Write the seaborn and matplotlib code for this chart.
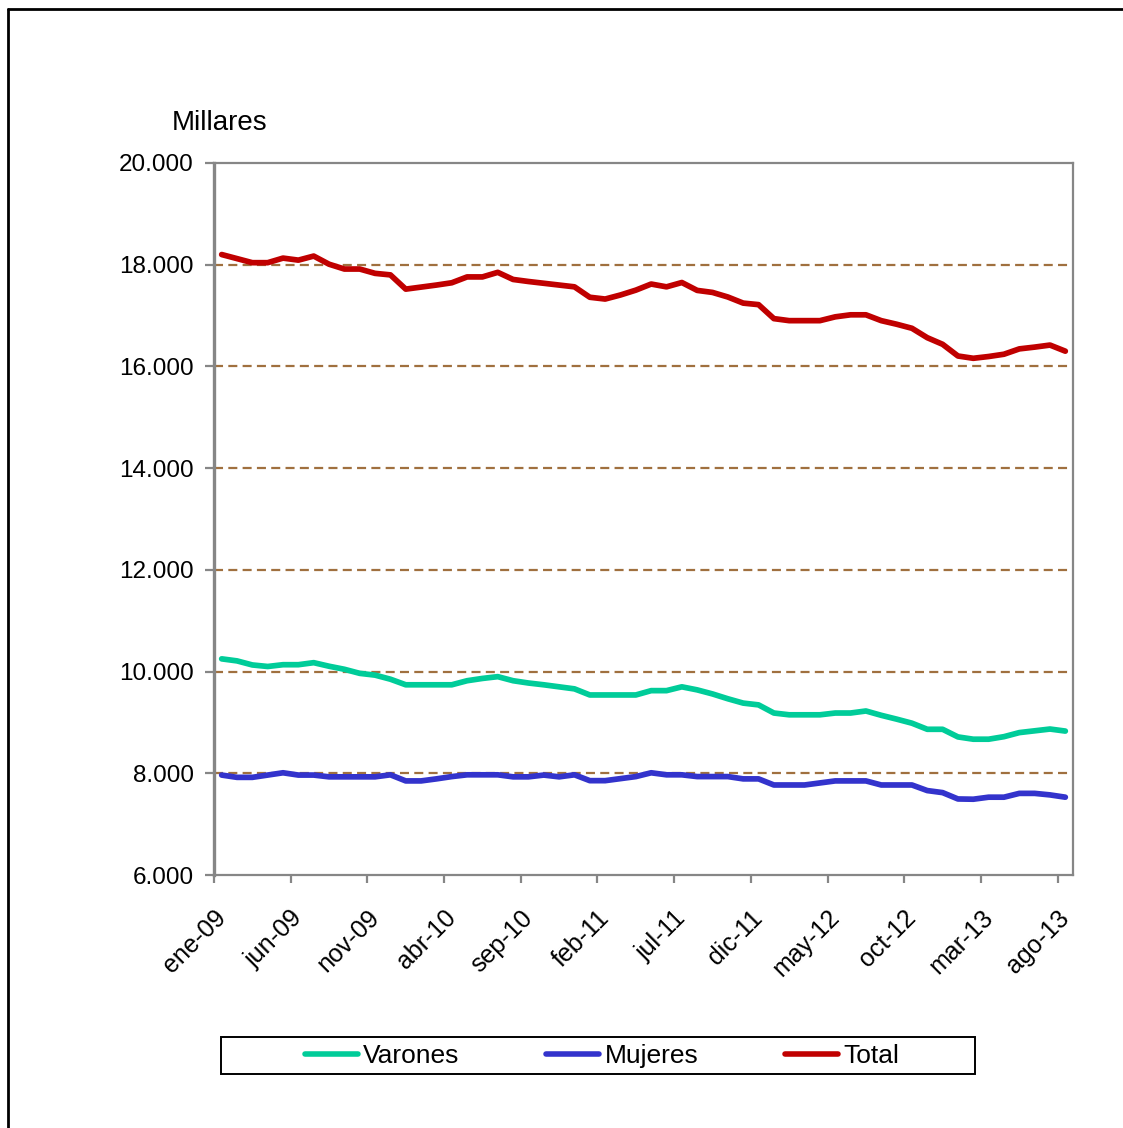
import matplotlib
matplotlib.use("Agg")
import matplotlib.pyplot as plt
import matplotlib.ticker as mticker
import matplotlib.transforms as mtransforms
from matplotlib.lines import Line2D
from matplotlib.patches import Rectangle
import seaborn as sns
import pandas as pd

# ---------------- data (thousands of persons, monthly ene-09 .. ago-13) -------------
meses = ["ene", "feb", "mar", "abr", "may", "jun", "jul", "ago", "sep", "oct", "nov", "dic"]
periodos = [f"{meses[m]}-{y:02d}" for y in range(9, 14) for m in range(12)][:56]

varones = [10250, 10210, 10130, 10100, 10135, 10135, 10175, 10105, 10045, 9965,
           9930, 9850, 9740, 9740, 9740, 9740, 9820, 9865, 9900, 9820,
           9775, 9740, 9700, 9660, 9540, 9540, 9540, 9540, 9625, 9625,
           9700, 9640, 9560, 9465, 9380, 9345, 9185, 9150, 9150, 9150,
           9185, 9185, 9225, 9140, 9065, 8985, 8865, 8865, 8715, 8670,
           8670, 8720, 8800, 8835, 8870, 8830]
mujeres = [7965, 7920, 7920, 7965, 8010, 7965, 7965, 7930, 7930, 7930,
           7930, 7970, 7850, 7850, 7890, 7935, 7970, 7970, 7970, 7930,
           7930, 7965, 7930, 7970, 7855, 7855, 7895, 7935, 8010, 7970,
           7970, 7935, 7935, 7935, 7890, 7890, 7770, 7770, 7770, 7810,
           7850, 7850, 7850, 7770, 7770, 7770, 7660, 7620, 7495, 7490,
           7530, 7530, 7605, 7605, 7575, 7530]
total = [18200, 18120, 18040, 18040, 18130, 18090, 18170, 18010, 17915, 17915,
         17830, 17800, 17520, 17560, 17600, 17645, 17760, 17760, 17850, 17710,
         17670, 17635, 17600, 17565, 17360, 17325, 17405, 17500, 17620, 17565,
         17650, 17495, 17455, 17365, 17245, 17215, 16940, 16900, 16900, 16900,
         16975, 17015, 17015, 16900, 16830, 16750, 16565, 16435, 16205, 16160,
         16195, 16240, 16345, 16380, 16420, 16300]

series = ["Varones", "Mujeres", "Total"]
colores = ["#00CC99", "#3333CC", "#C00000"]
yticks = [6000, 8000, 10000, 12000, 14000, 16000, 18000, 20000]

# ---------------- long-form table -------------
n = len(periodos)
df = pd.DataFrame({
    "idx": list(range(n)) * 3,
    "valor": varones + mujeres + total,
    "serie": [series[0]] * n + [series[1]] * n + [series[2]] * n,
})

sns.set_style("white")
plt.rcParams["font.family"] = ["Liberation Sans", "DejaVu Sans"]
plt.rcParams["lines.scale_dashes"] = False
plt.rcParams["text.color"] = "black"
plt.rcParams["xtick.labelcolor"] = "black"
plt.rcParams["ytick.labelcolor"] = "black"

W, H, DPI = 1123, 1128, 100
fig = plt.figure(figsize=(W / DPI, H / DPI), dpi=DPI)
ax = fig.add_axes([214 / W, 1 - 875 / H, (1073 - 214) / W, (875 - 163) / H])

palette = dict(zip(series, colores))
sns.lineplot(data=df, x="idx", y="valor", hue="serie", hue_order=series,
             palette=palette, linewidth=4.1, ax=ax, legend=False,
             solid_capstyle="round", solid_joinstyle="round")

# axes limits
ax.set_xlim(-0.5, n - 0.5)
ax.set_ylim(yticks[0], yticks[-1])

# gridlines (dashed brown), excluding the bottom and top ones
for v in yticks[1:-1]:
    ax.axhline(v, color="#A0703F", linewidth=1.6, linestyle=(0, (6.5, 3.8)), zorder=0.5)

# spines
for s in ax.spines.values():
    s.set_color("#868686")
    s.set_linewidth(1.6)
ax.spines["left"].set_linewidth(2.4)

# y axis
ax.set_yticks(yticks)
ax.yaxis.set_major_formatter(mticker.FuncFormatter(lambda v, p: f"{v:,.0f}".replace(",", ".")))
ax.tick_params(axis="y", direction="out", length=6.5, width=1.6, color="#868686",
               labelsize=17.5, pad=8, left=True, labelcolor="black")

# x axis: ticks at category boundaries every 5, labels at categories every 5
ax.set_xticks([i - 0.5 for i in range(0, n, 5)])
ax.set_xticklabels([])
ax.set_xticks(list(range(0, n, 5)), minor=True)
ax.set_xticklabels([periodos[i] for i in range(0, n, 5)], minor=True,
                   rotation=45, ha="right", rotation_mode="anchor")
ax.tick_params(axis="x", which="major", direction="out", length=6, width=1.6,
               color="#868686", bottom=True)
ax.tick_params(axis="x", which="minor", length=0, labelsize=18, pad=22, bottom=True,
               labelcolor="black")
offset = mtransforms.ScaledTranslation(-8 / DPI, 0, fig.dpi_scale_trans)
for lbl in ax.get_xticklabels(minor=True):
    lbl.set_transform(lbl.get_transform() + offset)
ax.set_xlabel("")
ax.set_ylabel("")

# unit label
fig.text(172 / W, 1 - 123 / H, "Millares", fontsize=20, ha="left", va="center", color="black")

# outer chart border (left and top visible)
fig.add_artist(Line2D([8 / W, 8 / W], [0, 1 - 9 / H], transform=fig.transFigure,
                      color="black", linewidth=2))
fig.add_artist(Line2D([8 / W, 1], [1 - 9 / H, 1 - 9 / H], transform=fig.transFigure,
                      color="black", linewidth=2))

# legend box and entries
fig.add_artist(Rectangle((221 / W, 1 - 1074 / H), (975 - 221) / W, (1074 - 1037) / H,
                         transform=fig.transFigure, fill=False, edgecolor="black",
                         linewidth=1.4))
handles = [Line2D([], [], color=c, linewidth=4.0, solid_capstyle="round") for c in colores]
leg = fig.legend(handles, series, loc="center", bbox_to_anchor=(602 / W, 1 - 1056 / H),
                 ncol=3, frameon=False, fontsize=19, handlelength=2.0,
                 handletextpad=0.2, columnspacing=3.3)
for t in leg.get_texts():
    t.set_color("black")

fig.savefig("out.png", dpi=DPI, facecolor="white")
